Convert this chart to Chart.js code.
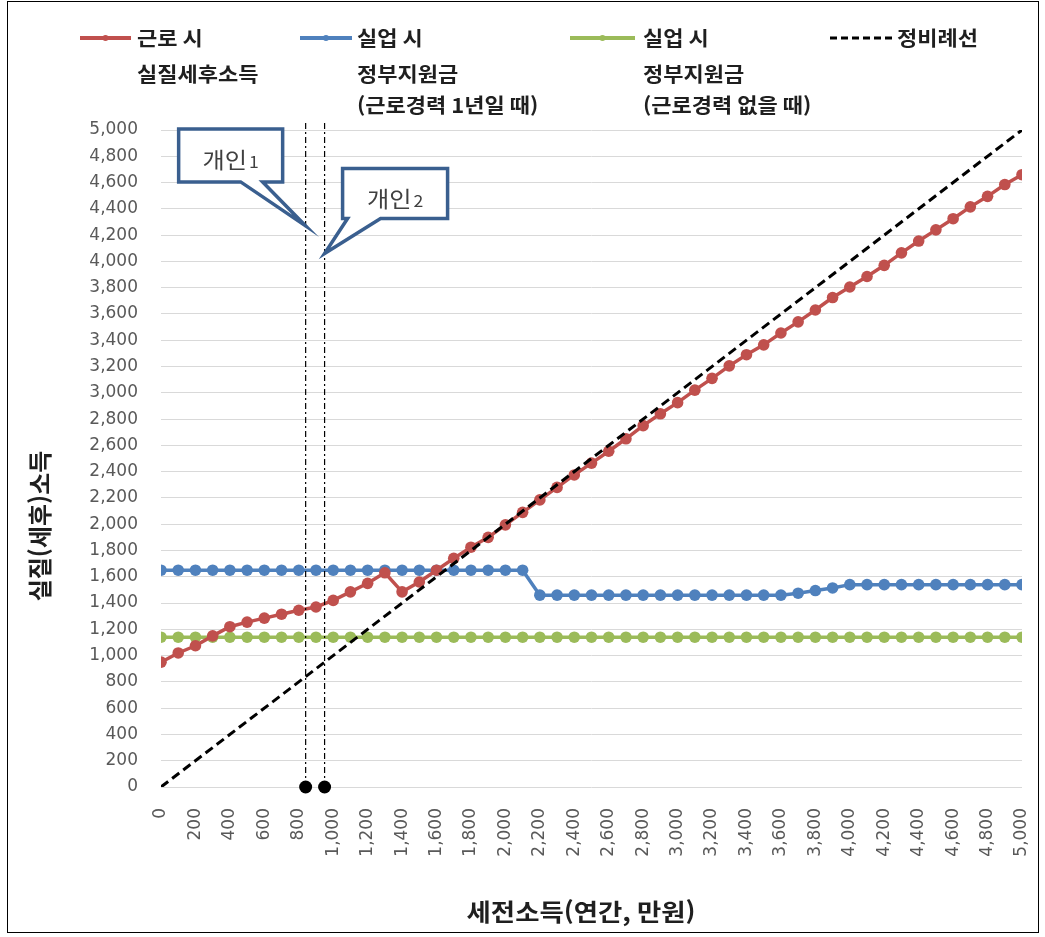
<!DOCTYPE html>
<html lang="ko">
<head>
<meta charset="utf-8">
<script src="https://cdn.jsdelivr.net/npm/chart.js@4"></script>
<style>
  html, body { margin: 0; padding: 0; background: #fff; }
  #wrap { position: relative; width: 1045px; height: 937px; }
</style>
</head>
<body>
<div id="wrap"><canvas id="chart" width="1045" height="937"></canvas></div>
<script>
"use strict"

// 세전소득 (연간, 만원)
var income = [
    0, 100, 200, 300, 400, 500, 600, 700, 800, 900,
    1000, 1100, 1200, 1300, 1400, 1500, 1600, 1700, 1800, 1900,
    2000, 2100, 2200, 2300, 2400, 2500, 2600, 2700, 2800, 2900,
    3000, 3100, 3200, 3300, 3400, 3500, 3600, 3700, 3800, 3900,
    4000, 4100, 4200, 4300, 4400, 4500, 4600, 4700, 4800, 4900,
    5000
];

// 근로 시 실질세후소득
var workIncome = [
    950, 1020, 1075, 1150, 1220, 1255, 1285, 1315, 1345, 1370,
    1420, 1485, 1550, 1630, 1485, 1560, 1650, 1740, 1825, 1900,
    1995, 2090, 2185, 2280, 2375, 2465, 2555, 2650, 2750, 2840,
    2925, 3020, 3110, 3205, 3290, 3365, 3455, 3540, 3630, 3725,
    3805, 3885, 3970, 4065, 4155, 4240, 4325, 4415, 4495, 4585,
    4660
];

// 실업 시 정부지원금 (근로경력 1년일 때)
var benefitOneYear = [
    1650, 1650, 1650, 1650, 1650, 1650, 1650, 1650, 1650, 1650,
    1650, 1650, 1650, 1650, 1650, 1650, 1650, 1650, 1650, 1650,
    1650, 1650, 1460, 1460, 1460, 1460, 1460, 1460, 1460, 1460,
    1460, 1460, 1460, 1460, 1460, 1460, 1460, 1475, 1495, 1515,
    1540, 1540, 1540, 1540, 1540, 1540, 1540, 1540, 1540, 1540,
    1540
];

// 실업 시 정부지원금 (근로경력 없을 때)
var benefitNone = [
    1140, 1140, 1140, 1140, 1140, 1140, 1140, 1140, 1140, 1140,
    1140, 1140, 1140, 1140, 1140, 1140, 1140, 1140, 1140, 1140,
    1140, 1140, 1140, 1140, 1140, 1140, 1140, 1140, 1140, 1140,
    1140, 1140, 1140, 1140, 1140, 1140, 1140, 1140, 1140, 1140,
    1140, 1140, 1140, 1140, 1140, 1140, 1140, 1140, 1140, 1140,
    1140
];

// 정비례선
var propX = [0, 5000];
var propY = [0, 5000];

// 개인1, 개인2 위치
var personNames = ['개인', '개인'];
var personNums = ['1', '2'];
var personX = [840, 950];
var personLineTop = 5070;
var personTipY = [4270, 4060];

var legendNames = [
    ['근로 시', '실질세후소득'],
    ['실업 시', '정부지원금', '(근로경력 1년일 때)'],
    ['실업 시', '정부지원금', '(근로경력 없을 때)'],
    ['정비례선']
];

var colors = {
    red: '#C0504D',
    blue: '#4F81BD',
    green: '#9BBB59',
    black: '#000000',
    grid: '#D9D9D9',
    tick: '#595959',
    callout: '#3A5F8F'
};

var toPoints = function (xs, ys) {
    var arr = [];
    for (var i = 0; i < xs.length; i++) {
        arr.push({ x: xs[i], y: ys[i] });
    }
    return arr;
};

var seriesStyle = function (color) {
    return {
        borderColor: color,
        backgroundColor: color,
        borderWidth: 3.5,
        pointRadius: 5.8,
        pointBorderWidth: 0,
        pointBackgroundColor: color,
        tension: 0
    };
};

var datasets = [];

// 개인 세로선 (바닥에 점)
for (var p = 0; p < personX.length; p++) {
    datasets.push({
        data: [{ x: personX[p], y: 0 }, { x: personX[p], y: personLineTop }],
        borderColor: colors.black,
        borderWidth: 1.2,
        borderDash: [6, 3, 2, 3],
        pointRadius: [6.5, 0],
        pointBackgroundColor: colors.black,
        pointBorderWidth: 0,
        clip: false,
        order: 0
    });
}

datasets.push({
    data: toPoints(propX, propY),
    borderColor: colors.black,
    borderWidth: 3,
    borderDash: [9, 5],
    pointRadius: 0,
    order: 1
});

datasets.push(Object.assign({ data: toPoints(income, workIncome), order: 2 }, seriesStyle(colors.red)));
datasets.push(Object.assign({ data: toPoints(income, benefitOneYear), order: 3 }, seriesStyle(colors.blue)));
datasets.push(Object.assign({ data: toPoints(income, benefitNone), order: 4 }, seriesStyle(colors.green)));

// 가로로 약간 넓힌 글자
var WIDE = 1.1;
var wideText = function (ctx, text, x, y, align) {
    var w = ctx.measureText(text).width * WIDE;
    var left = x;
    if (align === 'center') left = x - w / 2;
    ctx.save();
    ctx.textAlign = 'left';
    ctx.translate(left, y);
    ctx.scale(WIDE, 1);
    ctx.fillText(text, 0, 0);
    ctx.restore();
    return w;
};

// 말풍선 상자 (끝점 기준 px)
var calloutBoxes = [
    { l: -127, r: -23, t: -97, b: -44, a: -65, c: -43 },
    { l: 18, r: 123, t: -85, b: -35, a: 23, c: 56 }
];

var drawCallout = function (ctx, tx, ty, box, name, num) {
    ctx.save();
    ctx.beginPath();
    ctx.moveTo(tx + box.l, ty + box.t);
    ctx.lineTo(tx + box.r, ty + box.t);
    ctx.lineTo(tx + box.r, ty + box.b);
    ctx.lineTo(tx + box.c, ty + box.b);
    ctx.lineTo(tx, ty);
    ctx.lineTo(tx + box.a, ty + box.b);
    ctx.lineTo(tx + box.l, ty + box.b);
    ctx.closePath();
    ctx.fillStyle = '#ffffff';
    ctx.fill();
    ctx.lineWidth = 3.5;
    ctx.lineJoin = 'miter';
    ctx.strokeStyle = colors.callout;
    ctx.stroke();

    var cx = tx + (box.l + box.r) / 2;
    var cy = ty + (box.t + box.b) / 2;
    ctx.fillStyle = '#404040';
    ctx.textBaseline = 'alphabetic';
    ctx.font = '22px "Noto Sans CJK KR"';
    var w1 = ctx.measureText(name).width * WIDE;
    ctx.font = '16px "Noto Sans CJK KR"';
    var w2 = ctx.measureText(num).width * WIDE;
    var sx = cx - (w1 + w2 + 2) / 2;
    ctx.font = '22px "Noto Sans CJK KR"';
    wideText(ctx, name, sx, cy + 13, 'left');
    ctx.font = '16px "Noto Sans CJK KR"';
    wideText(ctx, num, sx + w1 + 2, cy + 13, 'left');
    ctx.restore();
};

var legendItems = [
    { x1: 80, x2: 131, tx: 137, color: colors.red, dash: false },
    { x1: 300, x2: 352, tx: 357, color: colors.blue, dash: false },
    { x1: 570, x2: 635, tx: 643, color: colors.green, dash: false },
    { x1: 830, x2: 893, tx: 897, color: colors.black, dash: true }
];
var legendRows = [38, 74, 105];

var decorations = {
    id: 'decorations',
    afterDatasetsDraw: function (chart) {
        var ctx = chart.ctx;
        var xs = chart.scales.x;
        var ys = chart.scales.y;
        for (var i = 0; i < personX.length; i++) {
            drawCallout(ctx, xs.getPixelForValue(personX[i]), ys.getPixelForValue(personTipY[i]),
                calloutBoxes[i], personNames[i], personNums[i]);
        }
    },
    afterDraw: function (chart) {
        var ctx = chart.ctx;
        ctx.save();

        // 범례
        for (var i = 0; i < legendItems.length; i++) {
            var it = legendItems[i];
            var y = legendRows[0];
            ctx.beginPath();
            ctx.strokeStyle = it.color;
            if (it.dash) {
                ctx.lineWidth = 3;
                ctx.setLineDash([7, 4]);
            } else {
                ctx.lineWidth = 4;
                ctx.setLineDash([]);
            }
            ctx.moveTo(it.x1, y);
            ctx.lineTo(it.x2, y);
            ctx.stroke();
            ctx.setLineDash([]);
            if (!it.dash) {
                ctx.beginPath();
                ctx.fillStyle = it.color;
                ctx.arc((it.x1 + it.x2) / 2, y, 3, 0, Math.PI * 2);
                ctx.fill();
            }
            ctx.fillStyle = '#1f1f1f';
            ctx.font = 'bold 20px "Noto Sans CJK KR"';
            ctx.textBaseline = 'middle';
            for (var k = 0; k < legendNames[i].length; k++) {
                wideText(ctx, legendNames[i][k], it.tx, legendRows[k], 'left');
            }
        }

        // 축 제목
        ctx.fillStyle = '#1f1f1f';
        ctx.font = 'bold 24px "Noto Sans CJK KR"';
        ctx.textBaseline = 'middle';
        wideText(ctx, '세전소득(연간, 만원)', 581, 912, 'center');
        ctx.translate(40, 526);
        ctx.rotate(-Math.PI / 2);
        ctx.textAlign = 'center';
        ctx.fillText('실질(세후)소득', 0, 0);
        ctx.restore();

        // 테두리
        ctx.save();
        ctx.strokeStyle = '#000';
        ctx.lineWidth = 1;
        ctx.strokeRect(7.5, 1.5, 1031, 931);
        ctx.restore();
    }
};

var config = {
    type: 'line',
    data: { datasets: datasets },
    options: {
        responsive: false,
        animation: false,
        devicePixelRatio: 1,
        layout: { padding: { top: 130, right: 23, left: 0, bottom: 0 } },
        plugins: {
            legend: { display: false },
            tooltip: { enabled: false }
        },
        scales: {
            x: {
                type: 'linear',
                min: 0,
                max: 5000,
                grid: { display: false, drawTicks: false },
                border: { display: false },
                ticks: {
                    stepSize: 200,
                    autoSkip: false,
                    minRotation: 90,
                    maxRotation: 90,
                    padding: 21,
                    color: colors.tick,
                    font: { family: 'DejaVu Sans', size: 17 }
                },
                afterFit: function (scale) {
                    scale.height = 150;
                    scale.paddingLeft = 0;
                    scale.paddingRight = 0;
                }
            },
            y: {
                min: 0,
                max: 5000,
                grid: { color: colors.grid, lineWidth: 1, drawTicks: false },
                border: { display: false },
                ticks: {
                    stepSize: 200,
                    autoSkip: false,
                    padding: 23,
                    color: colors.tick,
                    font: { family: 'DejaVu Sans', size: 17 }
                },
                afterFit: function (scale) {
                    scale.width = 161;
                    scale.paddingTop = 0;
                    scale.paddingBottom = 0;
                }
            }
        }
    },
    plugins: [decorations]
};

var myChart = new Chart(document.getElementById('chart'), config);
</script>
</body>
</html>
